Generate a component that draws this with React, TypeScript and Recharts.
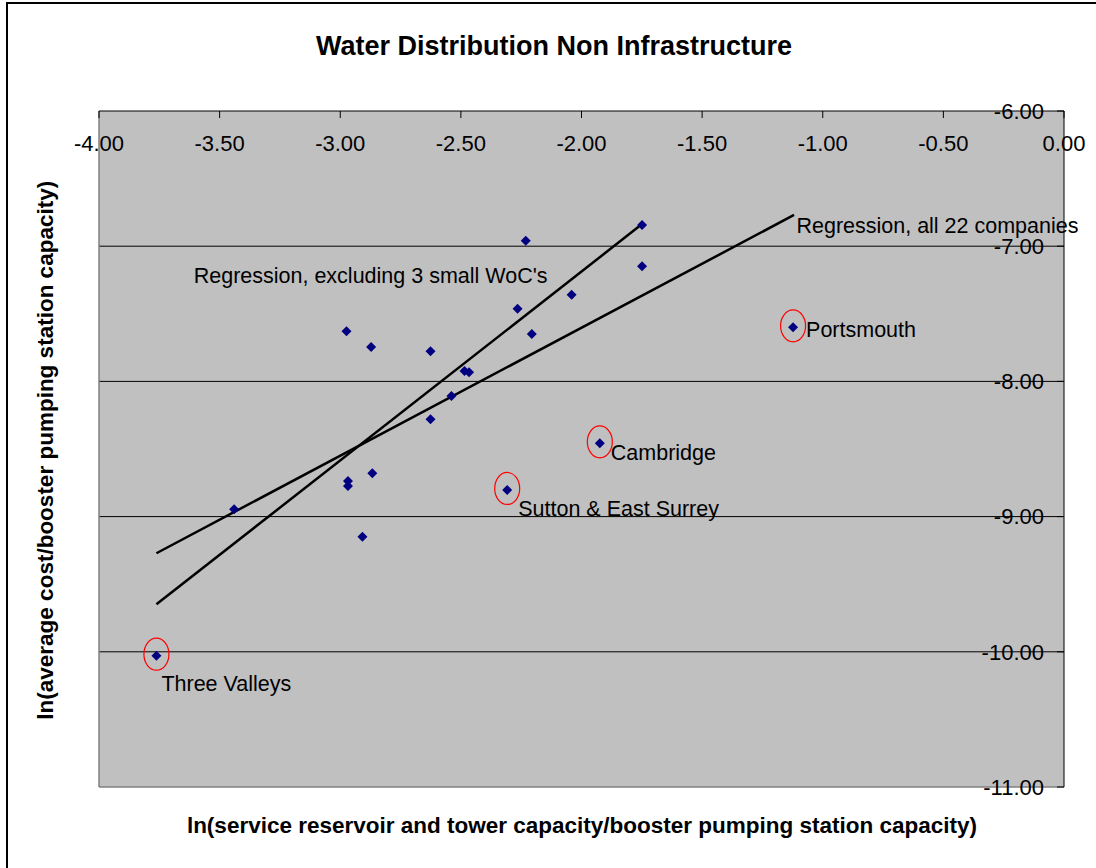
import React from 'react';
import {
  ScatterChart,
  Scatter,
  XAxis,
  YAxis,
  CartesianGrid,
  ReferenceLine
} from 'recharts';

const COMPANY_X = [
  -3.762, -3.44, -2.974, -2.872, -2.626, -2.485, -2.466, -2.539, -2.626, -2.867, -2.968,
  -2.968, -2.908, -2.308, -1.924, -1.123, -1.749, -1.749, -2.041, -2.231, -2.265, -2.206
];
const COMPANY_Y = [
  -10.029, -8.946, -7.629, -7.746, -7.777, -7.923, -7.933, -8.108, -8.28, -8.68, -8.737,
  -8.774, -9.149, -8.803, -8.458, -7.6, -6.843, -7.149, -7.359, -6.959, -7.462, -7.649
];
const COMPANY_NAMES = [
  'Three Valleys', '', '', '', '', '', '', '', '', '', '',
  '', '', 'Sutton & East Surrey', 'Cambridge', 'Portsmouth', '', '', '', '', '', ''
];

// regression line end points
const REG_ALL_X = [-3.762, -1.119];
const REG_ALL_Y = [-9.271, -6.769];
const REG_EXCL_X = [-3.762, -1.745];
const REG_EXCL_Y = [-9.649, -6.831];

const X_TICKS = [-4, -3.5, -3, -2.5, -2, -1.5, -1, -0.5, 0];
const Y_TICKS = [-11, -10, -9, -8, -7, -6];
const GRID_VALUES = [-10, -9, -8, -7];

const FONT = '"Liberation Sans", Arial, sans-serif';
const NAVY = '#000080';

const companies = COMPANY_X.map((x, i) => ({ x, y: COMPANY_Y[i], name: COMPANY_NAMES[i] }));
const regAll = REG_ALL_X.map((x, i) => ({ x, y: REG_ALL_Y[i] }));
const regExcl = REG_EXCL_X.map((x, i) => ({ x, y: REG_EXCL_Y[i] }));

// label placement relative to the point (styling only)
const NAME_OFFSET: Record<string, { dx: number; dy: number }> = {
  'Three Valleys': { dx: 5, dy: 35 },
  'Sutton & East Surrey': { dx: 11, dy: 26 },
  Cambridge: { dx: 11, dy: 17 },
  Portsmouth: { dx: 13, dy: 10 }
};

const CompanyShape = (p: any) => {
  const { cx, cy } = p;
  const name = p.payload?.name;
  const d = 5;
  const off = name ? NAME_OFFSET[name] : null;
  return (
    <g>
      <path d={`M${cx},${cy - d}L${cx + d},${cy}L${cx},${cy + d}L${cx - d},${cy}Z`} fill={NAVY} />
      {name && (
        <>
          <ellipse cx={cx} cy={cy - 1.5} rx={12.5} ry={16} fill="none" stroke="#FF0000" strokeWidth={1.2} />
          <text x={cx + off!.dx} y={cy + off!.dy} fontSize={21.5} fontFamily={FONT} fill="#000">
            {name}
          </text>
        </>
      )}
    </g>
  );
};

const regLabel = (text: string, dx: number, dy: number) => (p: any) => {
  if (p.index !== 1) return <g />;
  return (
    <text x={p.cx + dx} y={p.cy + dy} fontSize={21.5} fontFamily={FONT} fill="#000">
      {text}
    </text>
  );
};

export default function App() {
  return (
    <div style={{ position: 'relative', width: 1096, height: 868, overflow: 'hidden', background: '#fff' }}>
      <style>{'body{margin:0}'}</style>
      <div
        style={{
          position: 'absolute',
          left: 6,
          top: 2,
          width: 1200,
          height: 1000,
          borderLeft: '2px solid #000',
          borderTop: '2px solid #000'
        }}
      />
      <div style={{ position: 'absolute', left: 0, top: 0 }}>
        <ScatterChart width={1096} height={868} margin={{ top: 111, right: 32, bottom: 81, left: 99 }}>
          <CartesianGrid
            fill="#C0C0C0"
            fillOpacity={1}
            stroke="#000"
            vertical={false}
            horizontalValues={GRID_VALUES}
          />
          <ReferenceLine x={-4} stroke="#808080" strokeWidth={1.5} />
          <ReferenceLine y={-11} stroke="#808080" strokeWidth={1.5} />
          <XAxis
            type="number"
            dataKey="x"
            orientation="top"
            mirror
            domain={[-4, 0]}
            ticks={X_TICKS}
            interval={0}
            tickFormatter={(v: number) => v.toFixed(2)}
            tickSize={7}
            tickMargin={17}
            axisLine={{ stroke: '#000' }}
            tickLine={{ stroke: '#000' }}
            tick={{ fontSize: 22, fill: '#000', fontFamily: FONT }}
          />
          <YAxis
            type="number"
            dataKey="y"
            orientation="right"
            mirror
            domain={[-11, -6]}
            ticks={Y_TICKS}
            interval={0}
            tickFormatter={(v: number) => v.toFixed(2)}
            tickSize={7}
            tickMargin={13}
            axisLine={{ stroke: '#000' }}
            tickLine={{ stroke: '#000' }}
            tick={{ fontSize: 22, fill: '#000', fontFamily: FONT }}
          />
          <Scatter
            data={regAll}
            line={{ stroke: '#000', strokeWidth: 2.5 }}
            shape={regLabel('Regression, all 22 companies', 2.4, 18.3)}
            isAnimationActive={false}
          />
          <Scatter
            data={regExcl}
            line={{ stroke: '#000', strokeWidth: 2.5 }}
            shape={regLabel("Regression, excluding 3 small WoC's", -449.3, 60)}
            isAnimationActive={false}
          />
          <Scatter data={companies} shape={CompanyShape} isAnimationActive={false} />
        </ScatterChart>
      </div>
      <div
        style={{
          position: 'absolute',
          left: 0,
          top: 33,
          width: 1108,
          textAlign: 'center',
          fontFamily: FONT,
          fontWeight: 'bold',
          fontSize: 27,
          lineHeight: '27px',
          whiteSpace: 'nowrap'
        }}
      >
        Water Distribution Non Infrastructure
      </div>
      <div
        style={{
          position: 'absolute',
          left: 0,
          top: 815,
          width: 1164,
          textAlign: 'center',
          fontFamily: FONT,
          fontWeight: 'bold',
          fontSize: 22.5,
          lineHeight: '22.5px',
          whiteSpace: 'nowrap'
        }}
      >
        ln(service reservoir and tower capacity/booster pumping station capacity)
      </div>
      <div
        style={{
          position: 'absolute',
          left: 46.3 - 350,
          top: 450 - 11.25,
          width: 700,
          height: 22.5,
          textAlign: 'center',
          fontFamily: FONT,
          fontWeight: 'bold',
          fontSize: 22.5,
          lineHeight: '22.5px',
          whiteSpace: 'nowrap',
          transform: 'rotate(-90deg)'
        }}
      >
        ln(average cost/booster pumping station capacity)
      </div>
    </div>
  );
}
